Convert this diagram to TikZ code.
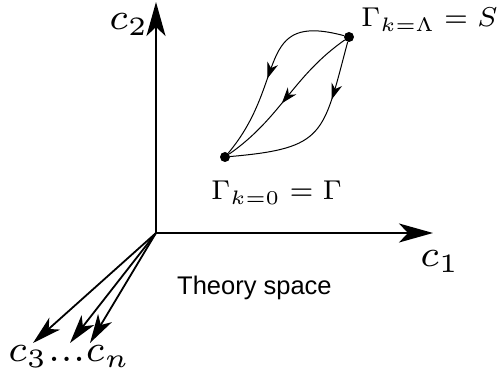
\documentclass[tikz,border=0pt]{standalone}
\usepackage{amsmath}
\usepackage{fontspec}
\newfontfamily\arialfont{Liberation Sans}
\usetikzlibrary{arrows.meta, decorations.markings}

\newcommand{\axistext}[1]{\scalebox{5.3}{\fontsize{7}{8}\selectfont$#1$}}
\newcommand{\gammatext}[1]{\scalebox{3.9}{\fontsize{7}{8}\selectfont$#1$}}

\tikzset{
    axisline/.style={line width=2pt, -{Stealth[length=34pt, width=19pt, inset=9pt]}},
    dimline/.style={line width=1.8pt, -{Stealth[length=29pt, width=16pt, inset=8pt]}},
    flowline/.style={line width=1pt, postaction={decorate},
        decoration={markings, mark=at position #1 with {\arrow{Stealth[length=16pt, width=11pt, inset=5pt]}}}},
    statedot/.style={circle, fill=black, minimum size=10pt, inner sep=0pt},
    textlabel/.style={anchor=base west, inner sep=0pt}
}

\begin{document}
\begin{tikzpicture}[x=1pt, y=1pt]
    \useasboundingbox (0,0) rectangle (499,385);

    % axes
    \coordinate (O) at (156,152);
    \coordinate (c2tip) at (156,383);
    \coordinate (c1tip) at (433,152);
    \draw[axisline] (O) -- (c2tip);
    \draw[axisline] (O) -- (c1tip);

    % remaining directions c3 ... cn
    \foreach \x [count=\i] in {33,70,90} {
        \coordinate (d\i) at (\x,42);
        \draw[dimline] (O) -- (d\i);
    }

    % axis labels
    \node[textlabel] (c2lab) at (109,355) {\axistext{c_2}};
    \node[textlabel] (c1lab) at (420,118) {\axistext{c_1}};
    \node[textlabel] (cnlab) at (8,23) {\axistext{c_3...c_n}};
    \node[textlabel, font=\arialfont\fontsize{25.5}{30}\selectfont]
        (space) at (177,90) {Theory space};

    % end points of the flow
    \node[statedot] (S) at (349,348) {};
    \node[statedot] (G) at (225,228) {};
    \node[textlabel] (Slab) at (361,358) {\gammatext{\Gamma_{k=\Lambda}=S}};
    \node[textlabel] (Glab) at (211,185) {\gammatext{\Gamma_{k=0}=\Gamma}};

    % flows from S to Gamma
    \draw[flowline=0.55] (S) to[out=165, in=50, looseness=1.45] (G);
    \draw[flowline=0.55] (S) to[out=215, in=35] (G);
    \draw[flowline=0.32] (S) to[out=255, in=5, looseness=1.5] (G);
\end{tikzpicture}
\end{document}
